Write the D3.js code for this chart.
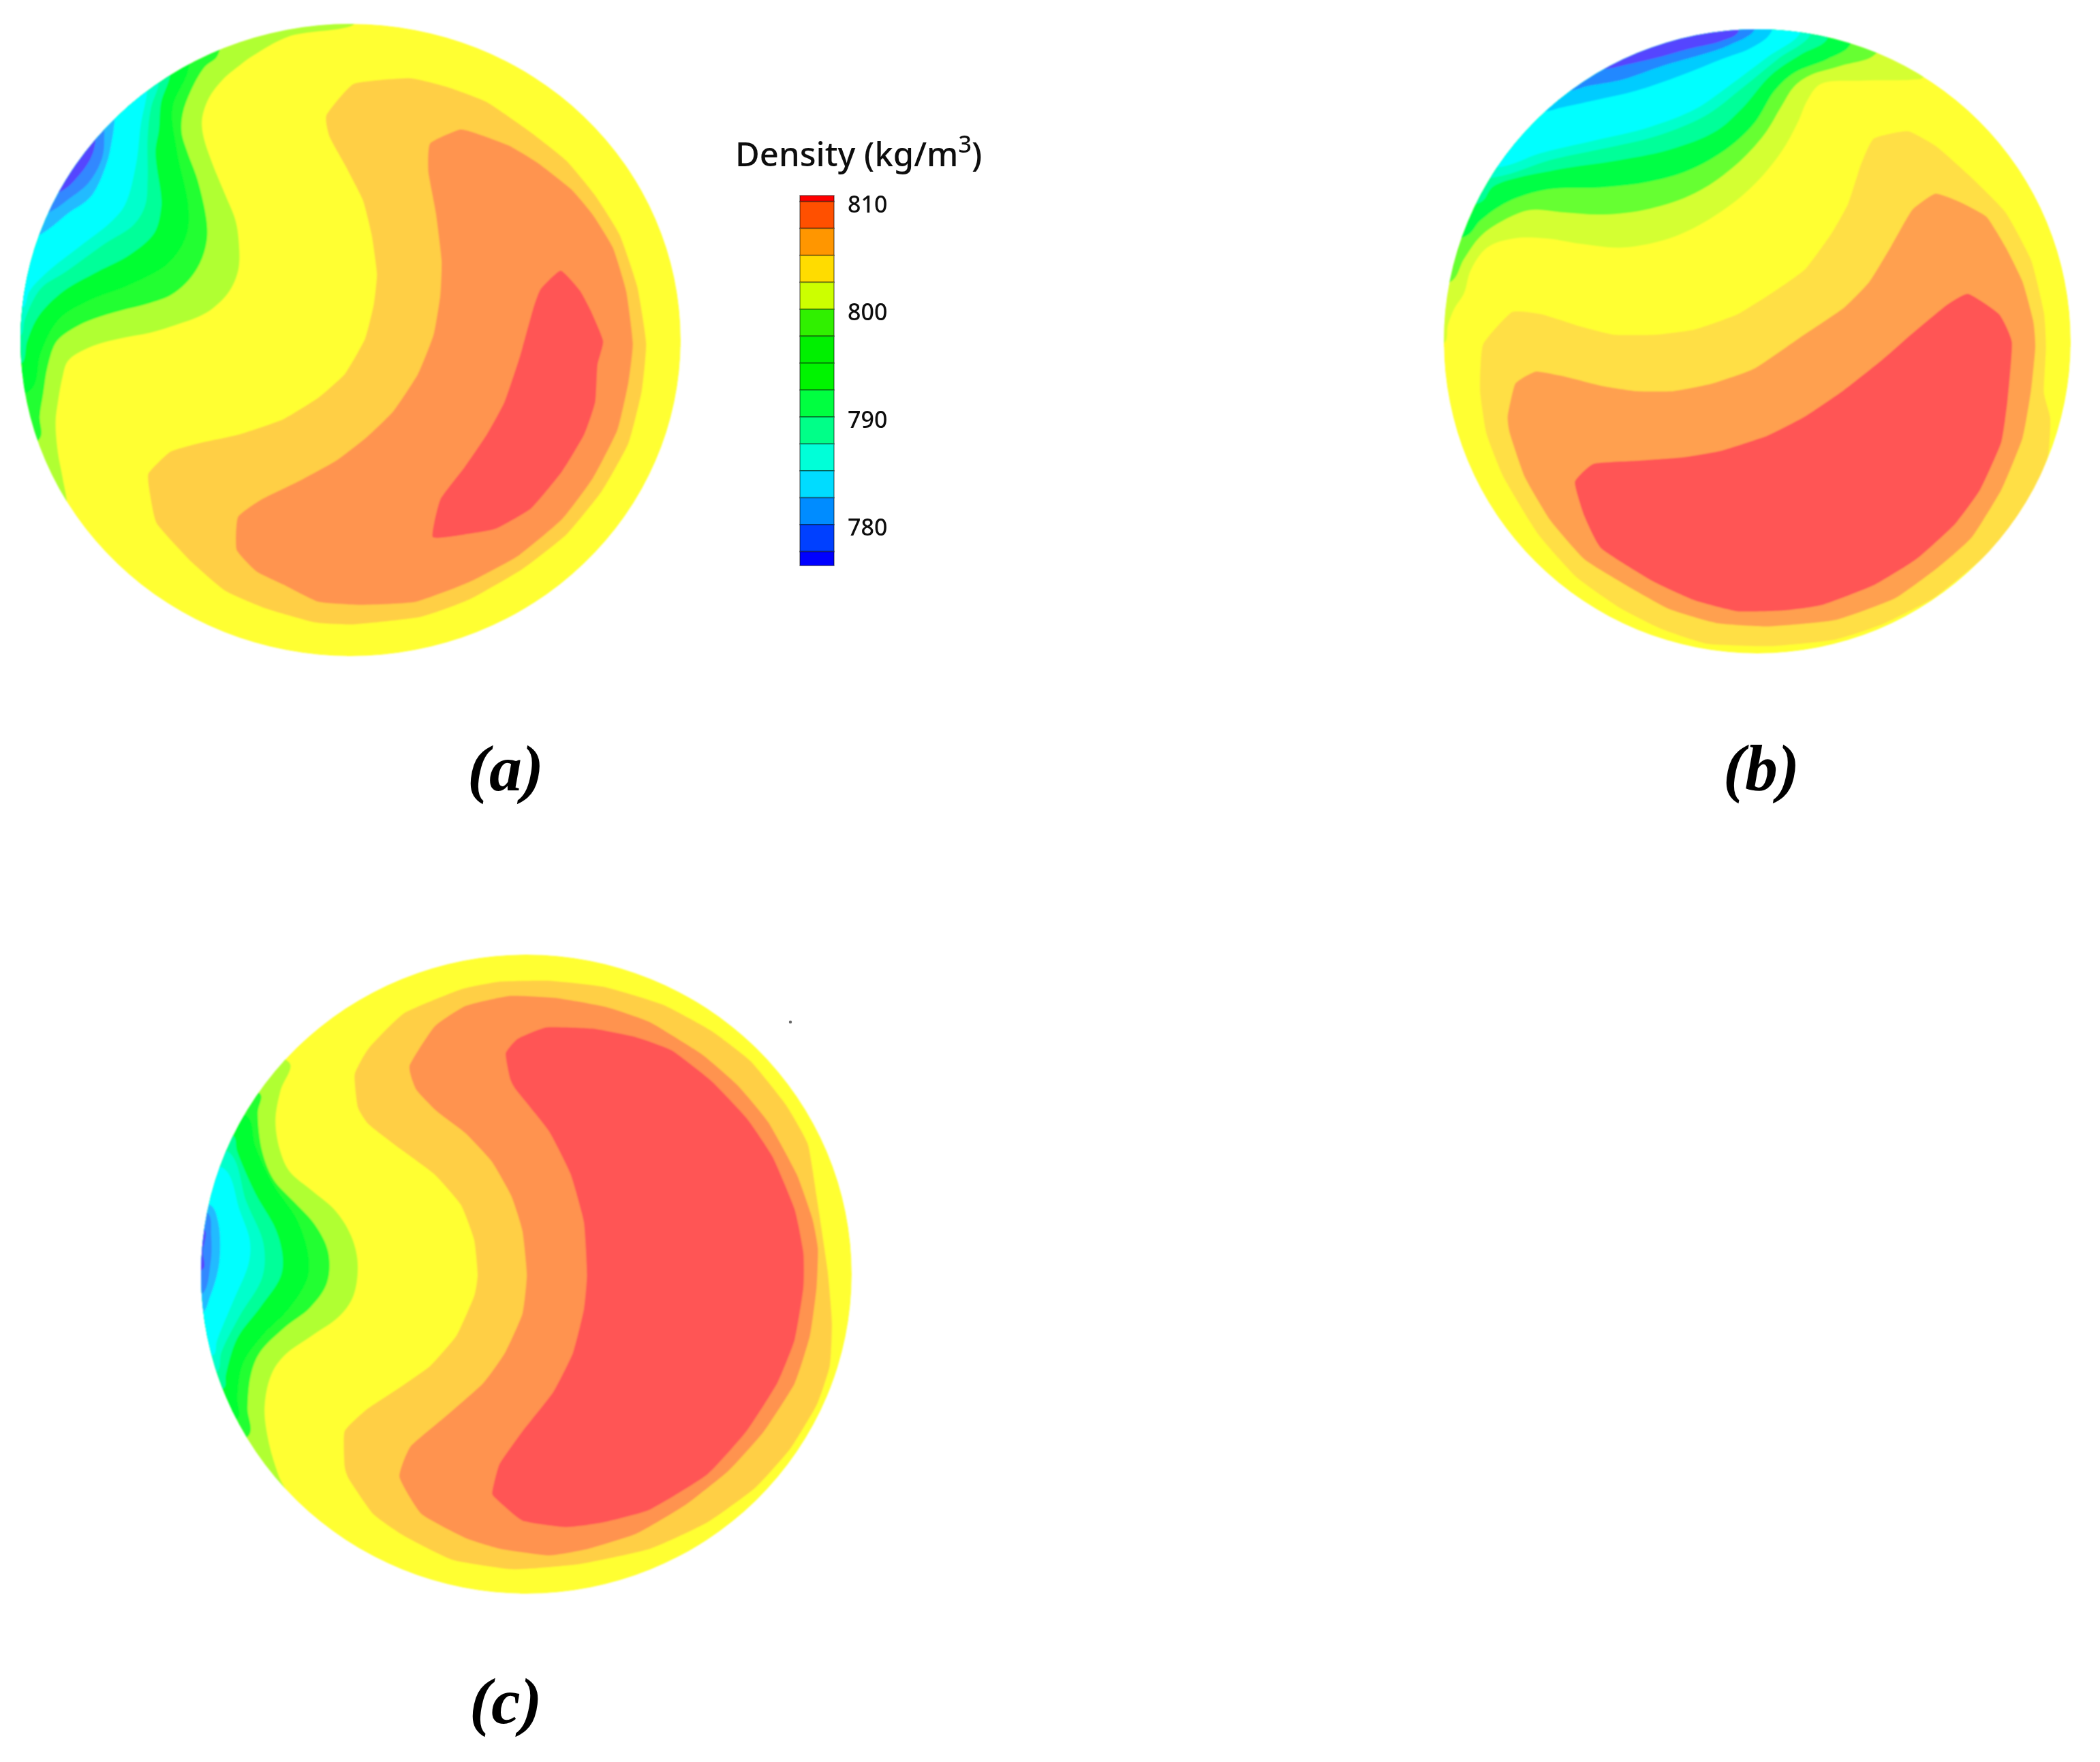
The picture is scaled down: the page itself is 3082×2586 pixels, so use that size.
<!DOCTYPE html>
<html><head><meta charset="utf-8">
<style>html,body{margin:0;padding:0;background:#fff}svg{display:block}</style>
<script src="https://cdn.jsdelivr.net/npm/d3@7/dist/d3.min.js"></script></head>
<body><svg id="c" width="3082" height="2586"></svg>
<script>
// Legend
const legendLevels=[810.55,810,807.5,805,802.5,800,797.5,795,792.5,790,787.5,785,782.5,780,777.5,776.2];
const legendColors=["#ff0000","#ff5000","#ff9600","#ffdc00","#ccff00","#30f000","#00f000","#00f400","#00ff40","#00ff88","#00ffd8","#00dcff","#008cff","#0040ff","#0000ff"];
const legendTicks=[810,800,790,780];
const panelLabels=["(a)","(b)","(c)"];

// Low-density contour outlines digitised for each cross-section
const aLow1=[[1500,-61],[1209,-15],[1053,54],[1000,85],[920,140],[860,205],[830,280],[835,340],[870,430],[930,550],[975,640],[990,710],[990,820],[950,900],[880,960],[820,990],[720,1020],[600,1050],[470,1070],[340,1100],[240,1150],[215,1210],[195,1300],[185,1370],[195,1480],[215,1568],[235,1680],[200,1800],[-100,1800],[-100,-100],[1500,-100]];
const aLow2=[[900,50],[840,95],[780,180],[745,260],[740,330],[765,400],[810,500],[850,650],[850,720],[820,800],[760,870],[690,915],[590,945],[470,970],[350,1000],[270,1030],[190,1080],[150,1170],[130,1270],[115,1350],[115,1430],[-100,1500],[-100,-100],[900,-100]];
const aLow3=[[770,100],[700,240],[720,400],[770,600],[760,700],[680,800],[500,880],[340,930],[200,1000],[120,1120],[80,1250],[-100,1300],[-100,-100],[770,-100]];
const aLow4=[[690,120],[650,220],[640,320],[625,400],[650,560],[650,600],[620,690],[510,770],[370,830],[220,900],[110,990],[60,1080],[35,1160],[-100,1160],[-100,-100],[690,-100]];
const aLow5=[[640,150],[605,240],[590,350],[590,500],[580,590],[530,660],[400,730],[230,830],[120,890],[50,1000],[30,1060],[-100,1060],[-100,-100],[640,-100]];
const aLow6=[[590,170],[560,300],[540,440],[490,590],[430,650],[290,740],[150,830],[70,900],[40,960],[-100,960],[-100,-100],[590,-100]];
const aLow7=[[445,280],[430,370],[410,440],[340,560],[240,620],[130,690],[-100,770],[-100,-100],[445,-100]];
const aLow8=[[400,320],[390,420],[330,510],[240,570],[170,610],[-100,700],[-100,-100],[400,-100]];
const aLow9=[[360,360],[340,420],[280,490],[210,540],[-100,600],[-100,-100],[360,-100]];
const aHigh1=[[800,193],[925,180],[1010,200],[1100,235],[1200,305],[1280,370],[1345,450],[1400,540],[1440,660],[1460,790],[1450,900],[1420,1020],[1360,1130],[1280,1230],[1180,1310],[1060,1380],[950,1420],[800,1437],[710,1432],[600,1400],[510,1360],[430,1290],[355,1205],[340,1140],[336,1090],[385,1040],[450,1020],[540,1000],[640,965],[720,915],[780,860],[825,780],[845,700],[852,630],[840,540],[820,460],[780,380],[745,315],[738,265]];
const aHigh2=[[1040,298],[1085,310],[1150,335],[1215,375],[1290,435],[1340,495],[1385,570],[1415,670],[1430,790],[1420,880],[1395,990],[1340,1100],[1270,1195],[1170,1280],[1060,1340],[940,1385],[820,1392],[720,1385],[640,1345],[580,1315],[535,1265],[538,1190],[590,1150],[680,1105],[760,1060],[830,1005],[890,945],[945,860],[980,770],[995,680],[998,600],[985,490],[968,395],[972,330]];
const aHigh3=[[1267,623],[1310,668],[1335,715],[1363,785],[1350,840],[1345,925],[1320,1000],[1270,1085],[1200,1170],[1120,1217],[1050,1230],[978,1236],[995,1150],[1050,1075],[1100,1000],[1140,925],[1175,820],[1205,710],[1222,665]];

const bLow1=[[1470,250],[1440,260],[1290,265],[1160,280],[1120,350],[1090,450],[1040,580],[960,720],[860,840],[720,950],[560,1000],[440,985],[330,960],[230,960],[150,1000],[100,1100],[80,1200],[50,1270],[31,1341],[20,1420],[-100,1420],[-100,-100],[1470,-100]];
const bLow2=[[1330,140],[1220,200],[1130,240],[1080,290],[1040,380],[990,500],[900,640],[780,760],[640,830],[500,855],[380,845],[280,835],[200,880],[130,950],[80,1050],[40,1150],[-100,1150],[-100,-100],[1330,-100]];
const bLow3=[[1250,105],[1180,170],[1080,230],[1020,310],[960,450],[880,560],[760,660],[640,710],[500,735],[330,745],[210,800],[130,880],[85,950],[-100,950],[-100,-100],[1250,-100]];
const bLow4=[[1180,80],[1100,150],[1010,240],[920,390],[840,490],[700,570],[530,620],[370,655],[170,730],[130,800],[-100,800],[-100,-100],[1180,-100]];
const bLow5=[[1130,60],[1030,170],[920,300],[810,420],[660,510],[500,565],[340,615],[175,690],[-100,700],[-100,-100],[1130,-100]];
const bLow6=[[1100,50],[1000,160],[880,290],[780,390],[640,470],[470,530],[310,585],[190,645],[-100,650],[-100,-100],[1100,-100]];
const bLow7=[[1010,50],[950,120],[860,170],[740,240],[600,310],[480,350],[370,385],[330,400],[-100,400],[-100,-100],[1010,-100]];
const bLow8=[[960,40],[880,110],[800,150],[680,200],[560,260],[450,290],[400,310],[-100,320],[-100,-100],[960,-100]];
const bLow9=[[910,50],[860,90],[760,125],[660,165],[570,195],[500,215],[-100,220],[-100,-100],[910,-100]];
const bHigh1=[[1040,320],[1120,303],[1190,340],[1270,410],[1350,490],[1410,600],[1440,720],[1445,800],[1440,905],[1455,965],[1450,1050],[1410,1150],[1350,1240],[1270,1310],[1180,1380],[1060,1440],[950,1475],[800,1490],[650,1485],[540,1450],[440,1400],[340,1330],[250,1230],[170,1100],[130,1000],[115,900],[122,795],[190,720],[260,725],[340,750],[430,772],[530,772],[620,760],[720,725],[810,670],[880,620],[940,540],[980,470],[1010,380]];
const bHigh2=[[1185,447],[1240,465],[1305,500],[1350,570],[1390,650],[1415,740],[1420,800],[1410,900],[1390,1010],[1340,1130],[1270,1240],[1190,1310],[1090,1380],[950,1430],[790,1445],[670,1437],[560,1405],[450,1345],[360,1290],[280,1200],[220,1100],[185,1000],[180,960],[198,885],[247,857],[320,870],[400,890],[480,902],[570,902],[660,885],[760,850],[880,770],[970,710],[1030,650],[1080,570],[1130,485]];
const bHigh3=[[1262,678],[1335,725],[1365,790],[1355,920],[1340,1020],[1290,1130],[1230,1210],[1140,1290],[1040,1350],[920,1395],[830,1408],[720,1410],[620,1385],[520,1340],[400,1265],[360,1190],[338,1112],[382,1070],[480,1063],[590,1055],[680,1040],[790,1005],[880,960],[970,900],[1060,830],[1130,770],[1210,705]];

const cLow1=[[420,0],[380,100],[358,210],[380,320],[420,390],[520,460],[620,530],[690,620],[720,720],[700,840],[640,910],[520,980],[400,1050],[340,1120],[310,1240],[330,1370],[370,1480],[420,1600],[-100,1600],[-100,0]];
const cLow2=[[290,110],[280,180],[300,320],[350,420],[440,500],[530,580],[590,680],[585,790],[510,880],[400,950],[290,1040],[250,1120],[235,1240],[240,1340],[-100,1380],[-100,110]];
const cLow3=[[230,190],[270,300],[350,440],[450,560],[500,680],[500,770],[420,880],[300,980],[215,1080],[190,1200],[190,1280],[-100,1280],[-100,190]];
const cLow4=[[170,260],[190,320],[270,470],[360,600],[390,700],[380,770],[290,880],[190,990],[140,1120],[130,1170],[-100,1170],[-100,260]];
const cLow5=[[150,320],[230,500],[305,650],[300,770],[200,910],[120,1040],[100,1110],[-100,1110],[-100,320]];
const cLow6=[[130,380],[200,530],[245,640],[240,720],[170,860],[100,1000],[85,1050],[-100,1050],[-100,380]];
const cLow7=[[70,510],[105,570],[110,720],[70,840],[35,900],[-100,900],[-100,510]];
const cLow8=[[60,540],[75,620],[72,720],[35,830],[-100,830],[-100,540]];
const cLow9=[[45,600],[38,680],[40,740],[-100,760],[-100,600]];
const cHigh1=[[720,97],[830,95],[960,110],[1090,150],[1200,210],[1290,280],[1370,380],[1420,470],[1440,590],[1465,760],[1475,880],[1470,980],[1440,1070],[1380,1170],[1300,1260],[1190,1340],[1060,1400],[900,1435],[750,1447],[610,1425],[500,1370],[430,1320],[375,1240],[365,1210],[365,1130],[415,1080],[490,1030],[560,980],[620,910],[660,820],[668,770],[660,690],[630,610],[570,540],[490,480],[420,425],[395,385],[388,310],[420,250],[500,170],[630,115]];
const cHigh2=[[640,153],[740,130],[850,135],[960,155],[1060,190],[1180,265],[1260,335],[1330,420],[1395,540],[1430,640],[1443,710],[1440,800],[1425,910],[1390,1020],[1320,1130],[1240,1220],[1140,1300],[1030,1365],[920,1400],[830,1415],[720,1400],[640,1375],[540,1320],[490,1235],[515,1165],[590,1100],[680,1020],[730,950],[770,860],[780,770],[770,670],[745,590],[700,510],[640,445],[575,395],[528,345],[513,290],[570,200]];
const cHigh3=[[825,202],[930,205],[1030,225],[1110,255],[1200,325],[1280,410],[1340,500],[1390,620],[1410,720],[1410,800],[1390,920],[1350,1020],[1280,1130],[1190,1230],[1060,1310],[950,1340],[870,1350],[770,1335],[705,1280],[702,1265],[718,1205],[770,1130],[840,1040],[885,950],[910,850],[917,770],[910,650],[880,540],[830,440],[755,345],[742,320],[732,262],[760,228]];

const svg=d3.select("#c");
const defs=svg.append("defs");
defs.append("filter").attr("id","soft").attr("x","-5%").attr("y","-5%").attr("width","110%").attr("height","110%")
  .append("feGaussianBlur").attr("stdDeviation",1.1);
defs.append("filter").attr("id","softText").append("feGaussianBlur").attr("stdDeviation",0.5);

const panels=[
 {id:"a",dx:[47,1538],dy:[55,1510],rx:[30,999],ry:[35,963],
  lowX:[[0,1080],[20,380]],lowY:[[0,1568],[60,700]],
  low:[[aLow1,"#b0ff33"],[aLow2,"#22ff33"],[aLow3,"#00ff33"],[aLow4,"#00ff99"],[aLow5,"#00ffcc"],[aLow6,"#00ffff"],[aLow7,"#22bbff"],[aLow8,"#3388ff"],[aLow9,"#5544ff"]],
  high:[[aHigh1,"#ffcf44"],[aHigh2,"#ff944f"],[aHigh3,"#ff5555"]]},
 {id:"b",dx:[30,1503],dy:[68,1507],rx:[2119,3039],ry:[43,959],
  lowX:[[0,1568],[2110,2870]],lowY:[[0,1200],[30,430]],
  low:[[bLow1,"#d4ff33"],[bLow2,"#66ff33"],[bLow3,"#00ff44"],[bLow4,"#00ff99"],[bLow5,"#00ffcc"],[bLow6,"#00ffff"],[bLow7,"#00ccff"],[bLow8,"#2288ff"],[bLow9,"#5544ff"]],
  high:[[bHigh1,"#ffdf44"],[bHigh2,"#ffa04f"],[bHigh3,"#ff5555"]]},
 {id:"c",dx:[38,1520],dy:[35,1503],rx:[295,1250],ry:[1401,2339],
  lowX:[[0,780],[285,545]],lowY:[[0,1568],[1560,2200]],
  low:[[cLow1,"#b0ff33"],[cLow2,"#22ff33"],[cLow3,"#00ff33"],[cLow4,"#00ff99"],[cLow5,"#00ffcc"],[cLow6,"#00ffff"],[cLow7,"#22bbff"],[cLow8,"#3388ff"],[cLow9,"#5544ff"]],
  high:[[cHigh1,"#ffcf44"],[cHigh2,"#ff934f"],[cHigh3,"#ff5555"]]}
];
const baseYellow="#ffff33";

panels.forEach(p=>{
  const x=d3.scaleLinear().domain(p.dx).range(p.rx), y=d3.scaleLinear().domain(p.dy).range(p.ry);
  const lx=d3.scaleLinear().domain(p.lowX[0]).range(p.lowX[1]), ly=d3.scaleLinear().domain(p.lowY[0]).range(p.lowY[1]);
  const cx=(p.rx[0]+p.rx[1])/2, cy=(p.ry[0]+p.ry[1])/2, ex=(p.rx[1]-p.rx[0])/2, ey=(p.ry[1]-p.ry[0])/2;
  defs.append("clipPath").attr("id","disk-"+p.id).append("ellipse").attr("cx",cx).attr("cy",cy).attr("rx",ex).attr("ry",ey);
  const outer=svg.append("g").attr("filter","url(#soft)");
  const g=outer.append("g").attr("clip-path",`url(#disk-${p.id})`);
  g.append("ellipse").attr("cx",cx).attr("cy",cy).attr("rx",ex).attr("ry",ey).attr("fill",baseYellow);
  const lowLine=d3.line().x(d=>lx(d[0])).y(d=>ly(d[1])).curve(d3.curveCatmullRomClosed.alpha(0.5));
  const highLine=d3.line().x(d=>x(d[0])).y(d=>y(d[1])).curve(d3.curveCardinalClosed.tension(0.55));
  g.selectAll("path.low").data(p.low).join("path").attr("class","low").attr("d",d=>lowLine(d[0])).attr("fill",d=>d[1]);
  g.selectAll("path.high").data(p.high).join("path").attr("class","high").attr("d",d=>highLine(d[0])).attr("fill",d=>d[1]);
});

// Legend bar
const yD=d3.scaleLinear().domain([810,780]).range([295.7,770]);
const bands=d3.pairs(legendLevels).map((d,i)=>({hi:d[0],lo:d[1],c:legendColors[i]}));
svg.append("g").selectAll("rect").data(bands).join("rect")
  .attr("x",1174).attr("width",50).attr("y",d=>yD(d.hi)).attr("height",d=>yD(d.lo)-yD(d.hi))
  .attr("fill",d=>d.c).attr("stroke","#000").attr("stroke-opacity",0.4).attr("stroke-width",1.8);
const ax=svg.append("g").attr("transform","translate(1224,4.5)")
  .call(d3.axisRight(yD).tickValues(legendTicks).tickSize(0).tickPadding(20).tickFormat(d3.format("d")));
ax.select(".domain").remove();
ax.selectAll("text").attr("font-family","'Noto Sans'").attr("font-size",34).attr("font-weight",500).attr("fill","#111").attr("filter","url(#softText)");

const title=svg.append("text").attr("x",1079).attr("y",244).attr("font-family","'Noto Sans'").attr("font-size",49).attr("font-weight",500).attr("fill","#111").attr("filter","url(#softText)");
title.append("tspan").text("Density (kg/m");
title.append("tspan").text("3").attr("font-size",34).attr("dy",-20);
title.append("tspan").text(")").attr("dy",20);

// Panel labels
const labelPos=[[686,1160],[2529,1159],[689,2529]];
svg.selectAll("text.lab").data(panelLabels).join("text").attr("class","lab")
  .attr("x",(d,i)=>labelPos[i][0]).attr("y",(d,i)=>labelPos[i][1]).text(d=>d)
  .attr("font-family","'Liberation Serif'").attr("font-weight","bold").attr("font-style","italic").attr("font-size",96).attr("fill","#000");

// Stray speck in the original figure
svg.append("circle").attr("cx",1160).attr("cy",1500).attr("r",2.2).attr("fill","#666");
</script></body></html>
